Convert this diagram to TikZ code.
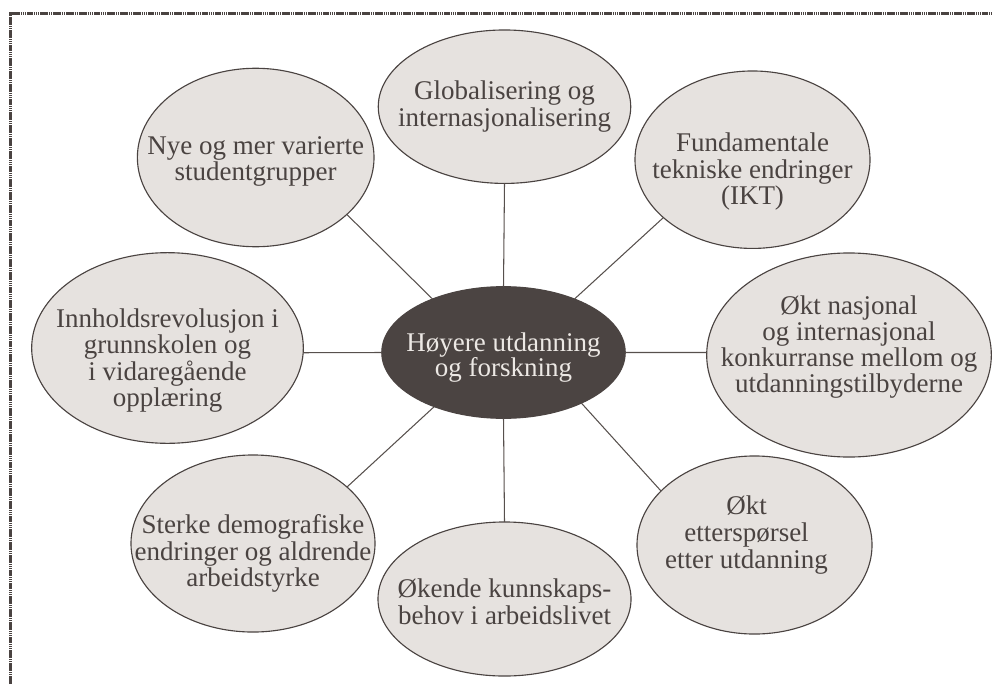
\documentclass[tikz,border=0pt]{standalone}
\usepackage{fontspec}
\setmainfont{Liberation Serif}
\usepackage{xcolor}
\usepackage{tikz}
\usetikzlibrary{shapes.geometric}
\definecolor{ink}{HTML}{4A4341}
\definecolor{hubfill}{HTML}{4B4442}
\definecolor{hubtext}{HTML}{ECE8E4}
\definecolor{bubblefill}{HTML}{E6E2DF}
\definecolor{spokegray}{HTML}{57504D}
\tikzset{
    bubble/.style={ellipse,draw=ink,fill=bubblefill,line width=0.8pt,
      inner sep=0pt,outer sep=0pt},
    hubnode/.style={ellipse,draw=hubfill,fill=hubfill,line width=0.8pt,
      inner sep=0pt,outer sep=0pt},
    bubbletext/.style={text=ink,align=center,inner sep=0pt,
      font=\fontsize{19.2}{19}\selectfont},
    tighttext/.style={bubbletext,font=\fontsize{19.2}{16.6}\selectfont},
    hubtextstyle/.style={bubbletext,text=hubtext,font=\fontsize{19.2}{18}\selectfont},
    spoke/.style={draw=spokegray,line width=0.75pt},
    frameline/.style={draw=ink,line width=0.08cm,line cap=butt,
      dash pattern=on 0.04cm off 0.014cm}
}

\begin{document}
\begin{tikzpicture}[x=0.025cm,y=-0.025cm]
  \useasboundingbox (0,0) rectangle (992,684);
  % dotted frame on top and left
  \draw[frameline] (10.5,684) -- (10.5,13.5) -- (992,13.5);

  % outer ellipses, sized in image pixels
  \node[bubble,minimum width=6.31cm,minimum height=3.835cm] (glob) at (504.5,106.7) {};
  \node[bubble,minimum width=5.915cm,minimum height=4.46cm] (nye) at (255.7,157.5) {};
  \node[bubble,minimum width=5.875cm,minimum height=4.435cm] (fund) at (752.5,159.7) {};
  \node[bubble,minimum width=7.115cm,minimum height=5.1cm] (nasjonal) at (849,355) {};
  \node[bubble,minimum width=6.79cm,minimum height=4.765cm] (innhold) at (167.5,348) {};
  \node[bubble,minimum width=6.1cm,minimum height=4.425cm] (sterke) at (253,543.5) {};
  \node[bubble,minimum width=6.325cm,minimum height=3.85cm] (okende) at (504.5,599) {};
  \node[bubble,minimum width=5.875cm,minimum height=4.45cm] (etter) at (754.5,545) {};
  \node[hubnode,minimum width=6.085cm,minimum height=3.29cm] (hub) at (503.5,352.5) {};

  % spokes from the hub
  \foreach \from/\to in {90/glob.south,143/nye.-32,37/fund.-147,0/nasjonal.179,
      180/innhold.-2,-142/sterke.31,-90/okende.north,-33/etter.150}
    \draw[spoke] (hub.\from) -- (\to);

  % labels
  \node[bubbletext] (globtext) at (glob) {Globalisering og\\internasjonalisering};
  \node[bubbletext,yshift=-0.1cm] (nyetext) at (nye) {Nye og mer varierte\\studentgrupper};
  \node[bubbletext,yshift=-0.3cm] (fundtext) at (fund) {Fundamentale\\tekniske endringer\\(IKT)};
  \node[tighttext,yshift=0.2cm] (nasjonaltext) at (nasjonal) {Økt nasjonal\\og internasjonal\\konkurranse mellom og\\utdanningstilbyderne};
  \node[tighttext,yshift=-0.32cm] (innholdtext) at (innhold) {Innholdsrevolusjon i\\grunnskolen og\\i vidaregående\\opplæring};
  \node[bubbletext,yshift=-0.25cm] (sterketext) at (sterke) {Sterke demografiske\\endringer og aldrende\\arbeidstyrke};
  \node[bubbletext,yshift=-0.07cm] (okendetext) at (okende) {Økende kunnskaps-\\behov i arbeidslivet};
  \node[bubbletext,xshift=-0.2cm,yshift=0.25cm] (ettertext) at (etter) {Økt\\etterspørsel\\etter utdanning};
  \node[hubtextstyle,yshift=-0.12cm] (hubtext) at (hub) {Høyere utdanning\\og forskning};
\end{tikzpicture}
\end{document}
